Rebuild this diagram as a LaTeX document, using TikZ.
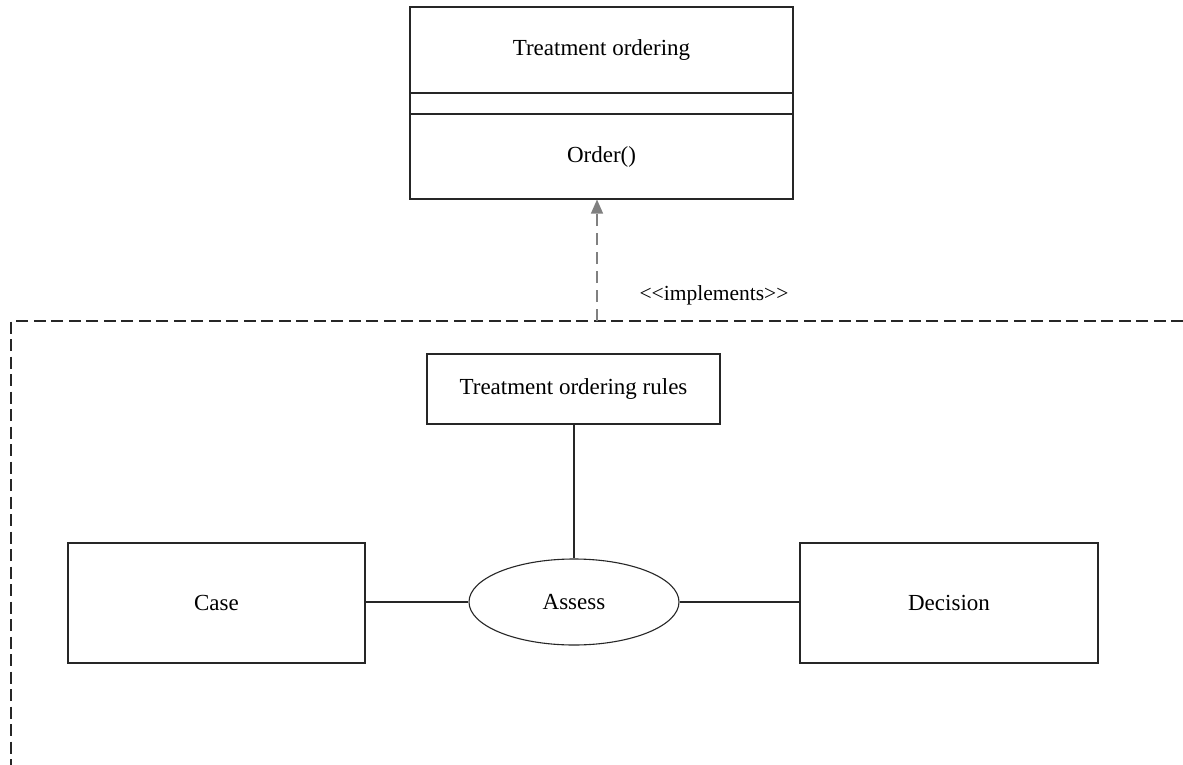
\documentclass[tikz,border=0pt]{standalone}
\usepackage{fontspec}
\setmainfont{Liberation Serif}
\usetikzlibrary{shapes.geometric,arrows.meta}
\begin{document}
\begin{tikzpicture}[x=1pt,y=-1pt,
  box/.style={draw=black!85,line width=1.1pt,fill=white,inner sep=0pt},
  lbl/.style={font=\fontsize{23}{27}\selectfont},
  conn/.style={draw=black!85,line width=1.1pt},
  frame/.style={draw=black!85,line width=1.3pt,dash pattern=on 12pt off 5.5pt}]
\useasboundingbox (0,0) rectangle (1183,765);
% top class box
\node[box,minimum width=383pt,minimum height=192pt] (cls) at (601.5,103) {};
\draw[conn] (410,93) -- (793,93);
\draw[conn] (410,114) -- (793,114);
\node[lbl] (clsname) at (601.5,50) {Treatment ordering};
\node[lbl] (clsop) at (601.5,157) {Order()};
% dashed frame
\coordinate (fcorner) at (11,321);
\coordinate (fright) at (1183,321);
\coordinate (fbottom) at (11,765);
\draw[frame] (fright) -- (fcorner) -- (fbottom);
% implements arrow
\coordinate (impl) at (597,321);
\draw[draw=black!50,line width=1.3pt,dash pattern=on 12pt off 7pt,
  -{Triangle[length=14pt,width=12pt]}] (impl) -- (impl |- cls.south);
\node[font=\fontsize{21.5}{25}\selectfont] (impllbl) at (714,295) {{<}{<}implements{>}{>}};
% inner nodes
\node[box,lbl,minimum width=293pt,minimum height=70pt] (rules) at (573.5,389) {Treatment ordering rules};
\node[box,lbl,ellipse,minimum width=210pt,minimum height=86pt] (assess) at (574,602) {Assess};
\node[box,lbl,minimum width=297pt,minimum height=120pt] (case) at (216.5,603) {Case};
\node[box,lbl,minimum width=298pt,minimum height=120pt] (dec) at (949,603) {Decision};
\draw[conn] (rules.south -| assess.north) -- (assess.north);
\draw[conn] (case.east |- assess.west) -- (assess.west);
\draw[conn] (assess.east) -- (dec.west |- assess.east);
\end{tikzpicture}
\end{document}
